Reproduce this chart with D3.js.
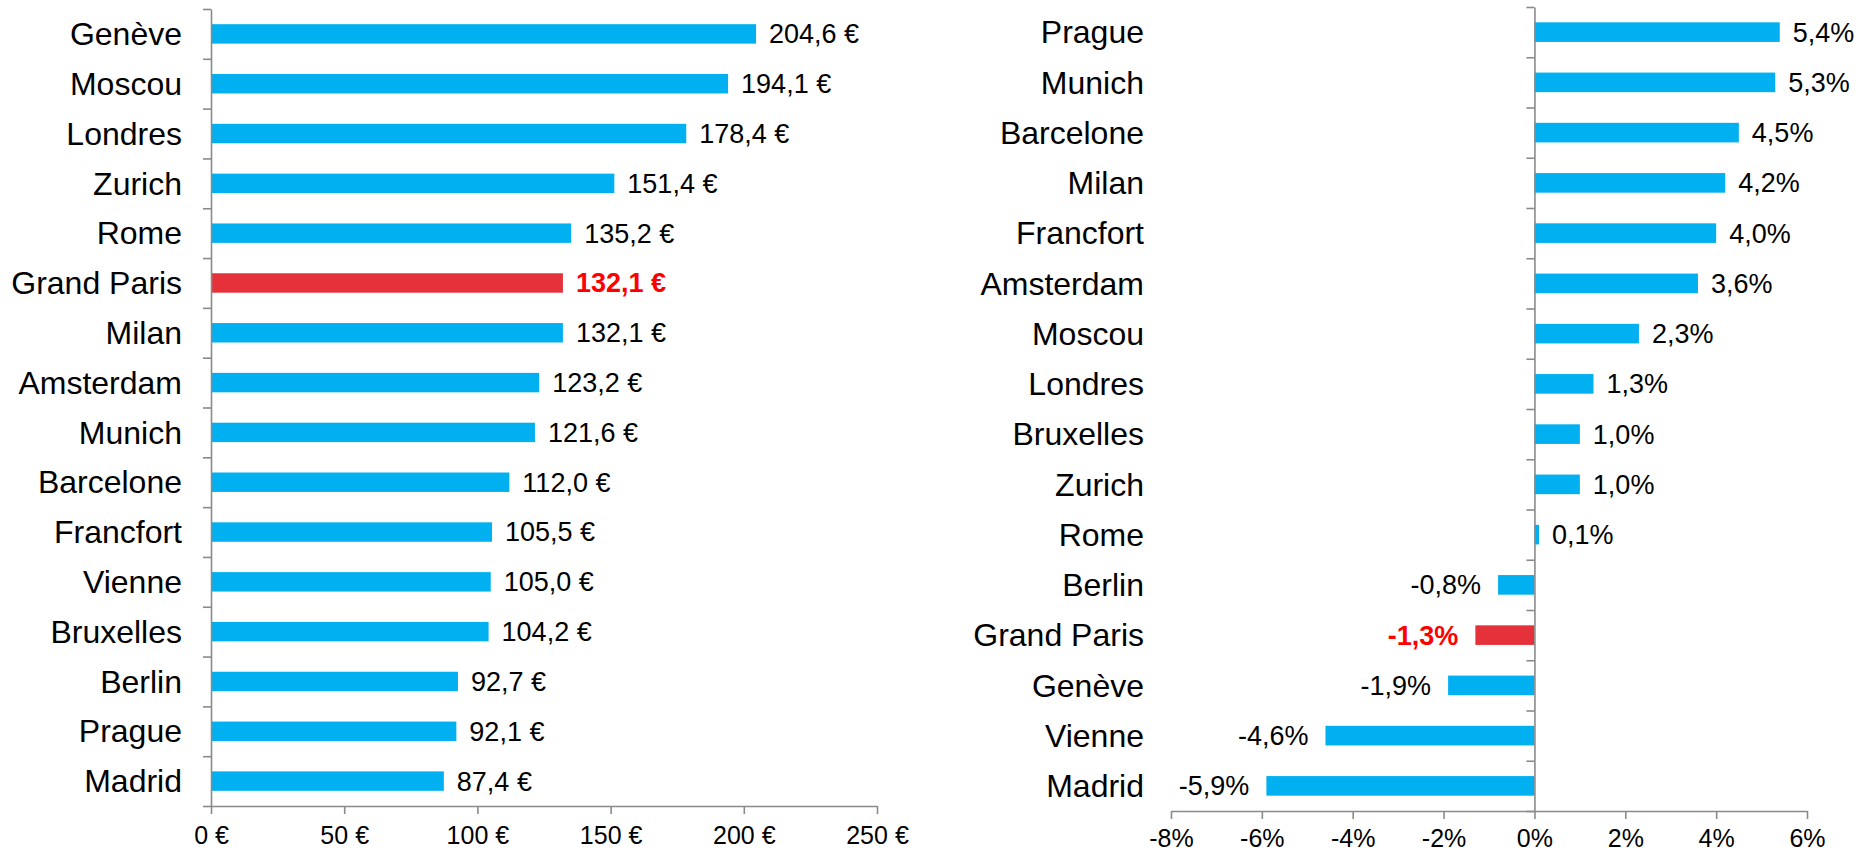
<!DOCTYPE html>
<html>
<head>
<meta charset="utf-8">
<script src="https://cdn.jsdelivr.net/npm/d3@7"></script>
<style>
  html, body { margin: 0; padding: 0; background: #fff; }
  svg { display: block; font-family: "Liberation Sans", Arial, sans-serif; }
</style>
</head>
<body>
<svg id="chart" width="1864" height="854"></svg>
<script>
// ---- Data ----
const priceCities = ["Genève","Moscou","Londres","Zurich","Rome","Grand Paris","Milan","Amsterdam","Munich","Barcelone","Francfort","Vienne","Bruxelles","Berlin","Prague","Madrid"];
const priceValues = [204.6,194.1,178.4,151.4,135.2,132.1,132.1,123.2,121.6,112.0,105.5,105.0,104.2,92.7,92.1,87.4];
const priceTicks = [0,50,100,150,200,250];

const changeCities = ["Prague","Munich","Barcelone","Milan","Francfort","Amsterdam","Moscou","Londres","Bruxelles","Zurich","Rome","Berlin","Grand Paris","Genève","Vienne","Madrid"];
const changeValues = [5.4,5.3,4.5,4.2,4.0,3.6,2.3,1.3,1.0,1.0,0.1,-0.8,-1.3,-1.9,-4.6,-5.9];
const changeTicks = [-8,-6,-4,-2,0,2,4,6];

const highlight = "Grand Paris";

// ---- Styles ----
const BLUE = "#00B0F0", RED_BAR = "#E5323A", RED_TXT = "#FF0000", AXIS = "#8a8a8a";
const CAT_FS = 32, VAL_FS = 27, TICK_FS = 25;

const fr = d3.formatLocale({decimal: ",", thousands: "\u00a0", grouping: [3], currency: ["", " €"], minus: "-"});
const f1 = fr.format(".1f");
const f0 = fr.format("d");

const svg = d3.select("#chart");

function drawChart(opts) {
  const {cats, vals, ticks, xDomain, xRange, yRange, labelX, tickFmt, valFmt, tickLabelY} = opts;
  const g = svg.append("g");
  const x = d3.scaleLinear().domain(xDomain).range(xRange);
  const y = d3.scaleBand().domain(cats).range(yRange).paddingInner(0).paddingOuter(0);
  const barH = y.bandwidth() * 0.39;
  const x0 = x(0);

  // bars
  g.selectAll("rect.bar").data(cats).join("rect")
    .attr("x", (d, i) => Math.min(x(vals[i]), x0))
    .attr("y", d => y(d) + (y.bandwidth() - barH) / 2)
    .attr("width", (d, i) => Math.abs(x(vals[i]) - x0))
    .attr("height", barH)
    .attr("fill", d => d === highlight ? RED_BAR : BLUE);

  // x axis
  const xAxis = d3.axisBottom(x).tickValues(ticks).tickSize(8).tickSizeOuter(0).tickFormat(tickFmt);
  const xa = g.append("g").attr("transform", `translate(0,${yRange[1]})`).call(xAxis);
  xa.select(".domain").attr("stroke", AXIS).attr("stroke-width", 1.6);
  xa.selectAll(".tick line").attr("stroke", AXIS).attr("stroke-width", 1.6);
  xa.selectAll(".tick text").attr("fill", "#000").attr("font-size", TICK_FS)
    .attr("font-family", "Liberation Sans, Arial, sans-serif").attr("y", tickLabelY).attr("dy", "0.71em");

  // y axis (ticks at band boundaries)
  const idx = d3.scaleLinear().domain([0, cats.length]).range(yRange);
  const yAxis = d3.axisLeft(idx).tickValues(d3.range(cats.length + 1)).tickSize(8).tickSizeOuter(0).tickFormat("");
  const ya = g.append("g").attr("transform", `translate(${x0},0)`).call(yAxis);
  ya.select(".domain").attr("stroke", AXIS).attr("stroke-width", 1.6);
  ya.selectAll(".tick line").attr("stroke", AXIS).attr("stroke-width", 1.6);

  // category labels
  g.selectAll("text.cat").data(cats).join("text")
    .attr("class", "cat")
    .attr("x", labelX)
    .attr("y", d => y(d) + y.bandwidth() / 2)
    .attr("dy", "0.35em")
    .attr("text-anchor", "end")
    .attr("font-size", CAT_FS)
    .attr("fill", "#000")
    .text(d => d);

  // value labels
  g.selectAll("text.val").data(cats).join("text")
    .attr("class", "val")
    .attr("x", (d, i) => vals[i] >= 0 ? x(vals[i]) + 13 : x(vals[i]) - 17)
    .attr("y", d => y(d) + y.bandwidth() / 2)
    .attr("dy", "0.35em")
    .attr("text-anchor", (d, i) => vals[i] >= 0 ? "start" : "end")
    .attr("font-size", VAL_FS)
    .attr("font-weight", d => d === highlight ? "bold" : "normal")
    .attr("fill", d => d === highlight ? RED_TXT : "#000")
    .text((d, i) => valFmt(vals[i]));
}

drawChart({
  cats: priceCities, vals: priceValues, ticks: priceTicks,
  xDomain: [0, 250], xRange: [211, 877], yRange: [9, 806], labelX: 182, tickLabelY: 20,
  tickFmt: d => f0(d) + " €", valFmt: v => f1(v) + " €"
});

drawChart({
  cats: changeCities, vals: changeValues, ticks: changeTicks,
  xDomain: [-8, 6], xRange: [1171, 1807], yRange: [7, 811], labelX: 1144, tickLabelY: 18,
  tickFmt: d => f0(d) + "%", valFmt: v => f1(v) + "%"
});
</script>
</body>
</html>
